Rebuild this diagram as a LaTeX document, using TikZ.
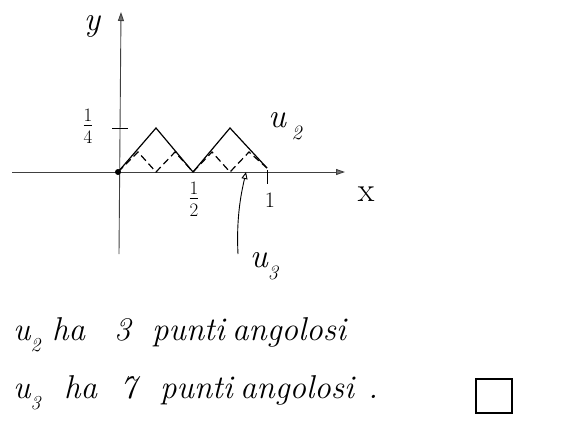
\documentclass[tikz,border=0pt]{standalone}
\usepackage{fontspec}
\usepackage{graphicx}
\setmainfont{Latin Modern Roman}
\usetikzlibrary{arrows.meta}
\newcommand{\mysub}[1]{\raisebox{-0.35em}{\scalebox{0.6}{#1}}}
\newcommand{\myfrac}[2]{\begin{tabular}{@{}c@{}}#1\\[-3pt]\hline\rule{0pt}{0.95em}#2\end{tabular}}
\begin{document}
\begin{tikzpicture}[x=1pt,y=-1pt,
  axis/.style={line width=0.9pt, draw=black!75},
  tip/.style={-{Triangle[length=9pt,width=6pt,fill=black!55]}},
  curve/.style={line width=1.2pt, line join=miter},
  dcurve/.style={line width=1.2pt, dash pattern=on 7pt off 4pt},
  lab/.style={inner sep=0pt, font=\fontsize{22}{24}\selectfont\itshape},
  fr/.style={inner sep=0pt, font=\fontsize{19}{21}\selectfont},
  big/.style={inner sep=0pt, anchor=base west, font=\fontsize{33}{38}\selectfont\itshape}]
\useasboundingbox (0,0) rectangle (575,432);
% axes
\coordinate (O) at (118,172);
\coordinate (xl) at (12,172);
\coordinate (xr) at (345,172);
\coordinate (yb) at (119,254);
\coordinate (yt) at (121,12);
\draw[axis,tip] (xl) -- (xr);
\draw[axis,tip] (yb) -- (yt);
\fill (O) circle (3pt);
% ticks
\coordinate (t4a) at (112,128); \coordinate (t4b) at (128,128);
\draw[line width=1pt] (t4a) -- (t4b);
\coordinate (t1a) at (267,170); \coordinate (t1b) at (267,184);
\draw[line width=1pt] (t1a) -- (t1b);
% u2
\coordinate (p0) at (118,172);
\coordinate (p1) at (156,128);
\coordinate (p2) at (193,172);
\coordinate (p3) at (230,128);
\coordinate (p4) at (267,168);
\draw[curve] (p0) -- (p1) -- (p2) -- (p3) -- (p4);
% u3
\coordinate (q1) at (138,152);
\coordinate (q2) at (156,172);
\coordinate (q3) at (175,152);
\coordinate (q4) at (212,152);
\coordinate (q5) at (230,172);
\coordinate (q6) at (249,152);
\draw[dcurve] (p0) -- (q1) -- (q2) -- (q3) -- (p2) -- (q4) -- (q5) -- (q6) -- (p4);
% labels
\node[lab,anchor=base,font=\fontsize{34}{36}\selectfont\itshape] (ly) at (92,30) {y};
\node[lab,font=\fontsize{34}{36}\selectfont] (lx) at (366,194) {x};
\node[fr] (l14) at (88,128) {\myfrac{1}{4}};
\node[fr] (l12) at (194,201) {\myfrac{1}{2}};
\node[lab,font=\fontsize{22}{24}\selectfont] (l1) at (270,200) {1};
\node[lab,font=\fontsize{34}{36}\selectfont\itshape] (lu2) at (285,126) {u\,\mysub{2}};
\node[lab,font=\fontsize{34}{36}\selectfont\itshape] (lu3) at (264,266) {u\mysub{3}};
% pointer
\coordinate (ps) at (238,254);
\coordinate (pe) at (246,172);
\draw[line width=0.9pt,-{Triangle[open,length=7pt,width=6pt]}] (ps) .. controls (236,215) and (242,190) .. (pe);
% text lines
\node[big] (a1) at (13,340) {u\mysub{2}};
\node[big] (a2) at (52,340) {ha};
\node[big] (a3) at (114,340) {3};
\node[big] (a4) at (152,340) {punti};
\node[big] (a5) at (232,340) {angolosi};
\node[big] (b1) at (13,398) {u\mysub{3}};
\node[big] (b2) at (64,398) {ha};
\node[big] (b3) at (120,398) {7};
\node[big] (b4) at (160,398) {punti};
\node[big] (b5) at (240,398) {angolosi};
\node[big] (b6) at (368,398) {.};
\node[draw, line width=1.1pt, minimum width=36pt, minimum height=34pt, inner sep=0pt] (sq) at (494,396) {};
\end{tikzpicture}
\end{document}
